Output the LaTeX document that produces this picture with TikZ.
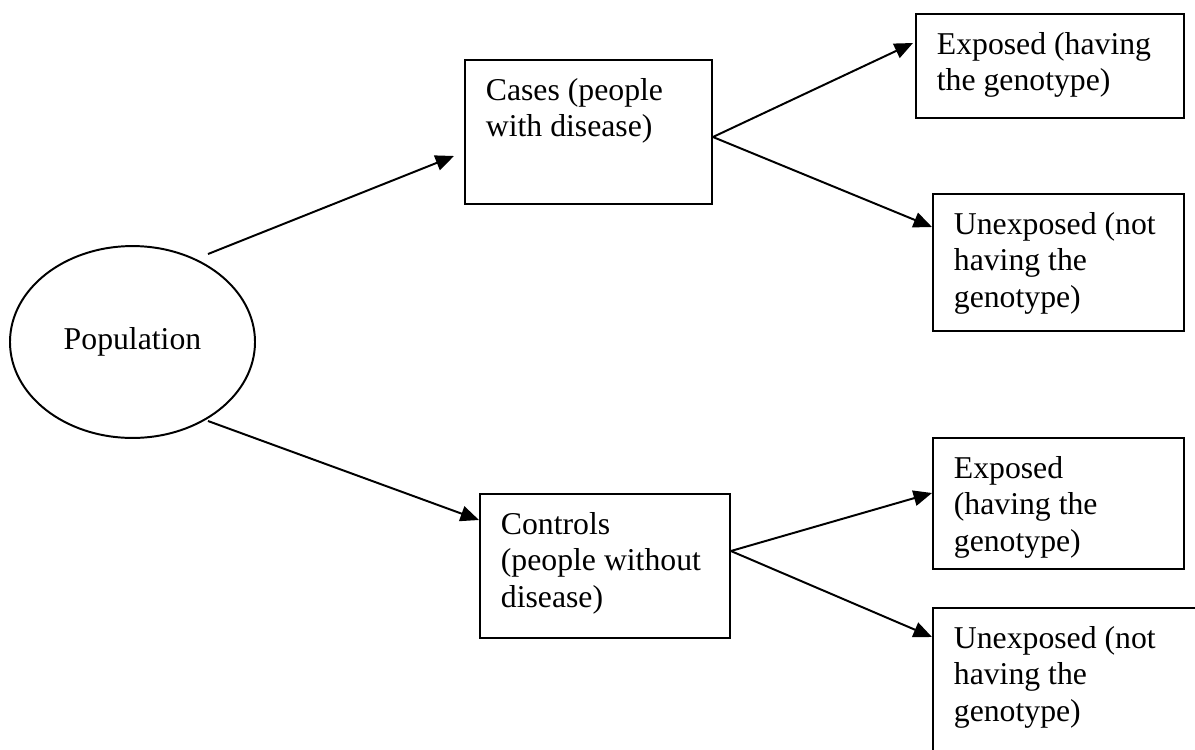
\documentclass[tikz,border=0pt]{standalone}
\usepackage{fontspec}
\setmainfont{Liberation Serif}
\usetikzlibrary{arrows.meta,shapes.geometric,calc}

\begin{document}
\begin{tikzpicture}[x=0.4065pt,y=-0.4065pt]
  \useasboundingbox (0,0) rectangle (1195,749);
  \clip (0,0) rectangle (1195,749);

  %stili
  \tikzset{box/.style={draw, line width=0.8pt, anchor=north west, inner xsep=8.5pt, inner ysep=5.8pt, font=\fontsize{12.9}{15}\selectfont}}
  \tikzset{link/.style={-{Triangle[length=7.5pt,width=6.3pt]}, line width=0.8pt, black}}

  % population
  \node[draw, ellipse, line width=0.8pt, minimum width=99.6pt, minimum height=78pt, inner sep=0pt, font=\fontsize{12.9}{15}\selectfont] (pop) at (132.5,342) {Population};

  % cases / controls
  \node[box] (cases) at (464,59) {\parbox[t][46.9pt][t]{83.4pt}{\strut Cases (people\\with disease)}};
  \node[box] (ctrl) at (479,493) {\parbox[t][46.9pt][t]{84.6pt}{\strut Controls\\(people without\\disease)}};

  % exposure
  \node[box] (expA) at (915,13) {\parbox[t][30.7pt][t]{91.9pt}{\strut Exposed (having\\the genotype)}};
  \node[box] (unexA) at (932,193) {\parbox[t][44.1pt][t]{85pt}{\strut Unexposed (not\\having the\\genotype)}};
  \node[box] (expB) at (932,437) {\parbox[t][41.7pt][t]{85pt}{\strut Exposed\\(having the\\genotype)}};
  \node[box] (unexB) at (932,607) {\parbox[t][53.4pt][t]{92.8pt}{\strut Unexposed (not\\having the\\genotype)}};

  % start points
  \coordinate (popUp) at ($(pop.center)+(75.5,-88)$);
  \coordinate (popDown) at ($(pop.center)+(75.5,79)$);
  \coordinate (casesOut) at ($(cases.north east)+(0,78)$);
  \coordinate (ctrlOut) at ($(ctrl.north east)+(0,58)$);

  % arrows
  \draw[link] (popUp) -- ($(cases.north west)+(-10,97)$);
  \draw[link] (popDown) -- ($(ctrl.north west)+(0,27)$);
  \draw[link] (casesOut) -- ($(expA.north west)+(-2,30)$);
  \draw[link] (casesOut) -- ($(unexA.north west)+(0,34)$);
  \draw[link] (ctrlOut) -- ($(expB.north west)+(0,56)$);
  \draw[link] (ctrlOut) -- ($(unexB.north west)+(0,30)$);

\end{tikzpicture}
\end{document}
